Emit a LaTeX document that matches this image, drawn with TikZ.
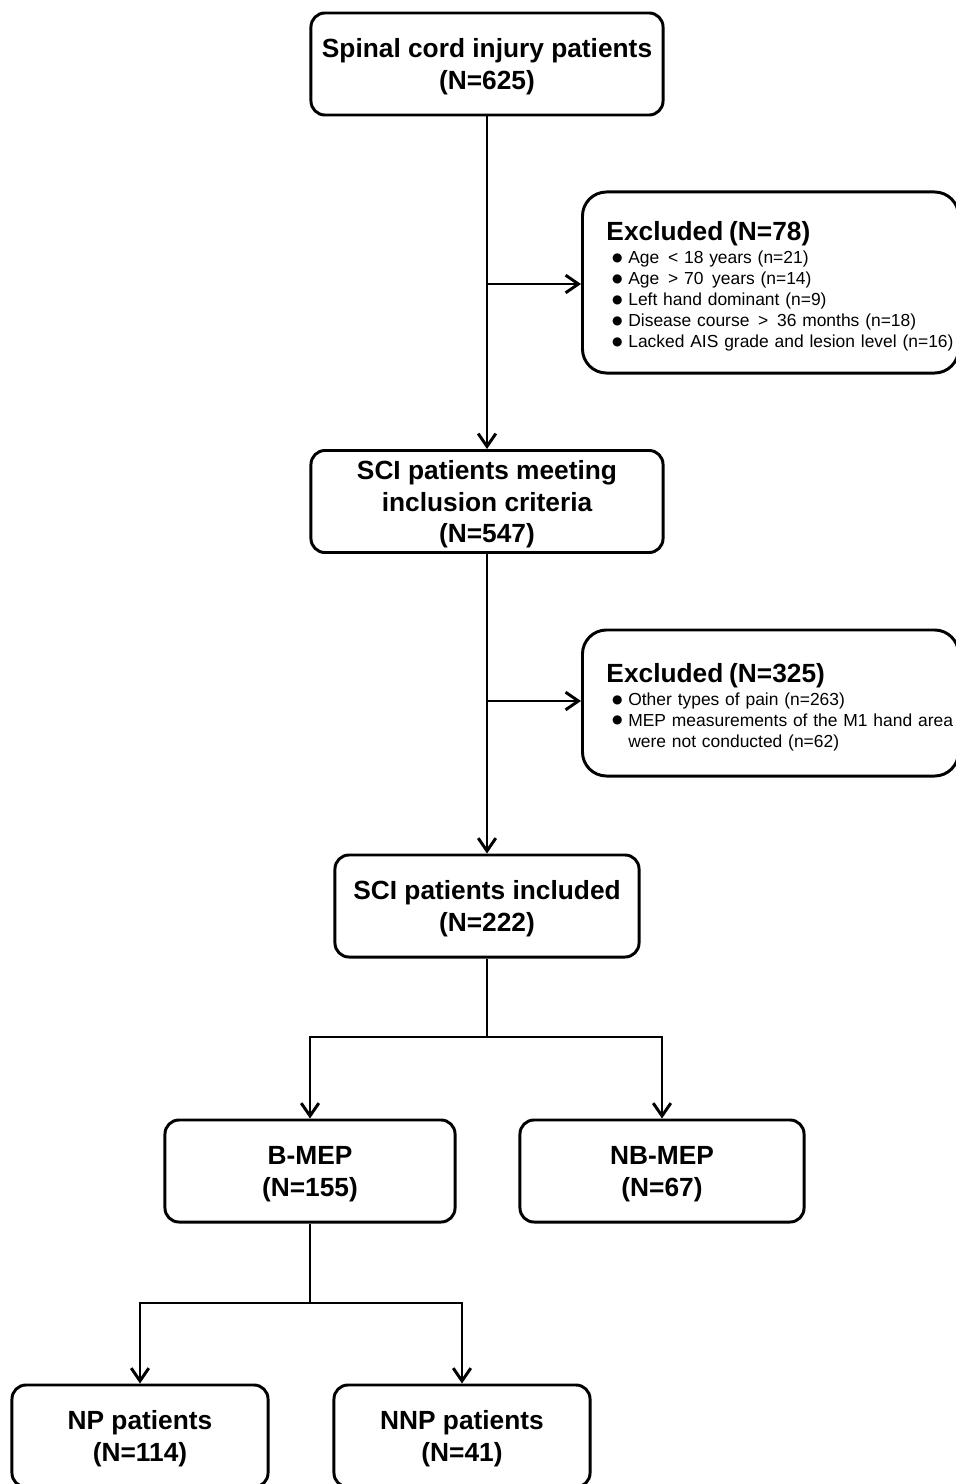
\documentclass[tikz,border=0pt]{standalone}
\usepackage{fontspec}
\setmainfont{Liberation Sans}
\newfontfamily\dotfont{DejaVu Sans}
\usetikzlibrary{arrows.meta,positioning,calc}
\tikzset{flowbox/.style={rectangle, rounded corners=0.35cm, draw=black, line width=2.1pt, fill=white, align=center, minimum height=2.55cm, text depth=-4pt, font=\bfseries\fontsize{18.7}{22.7}\selectfont},
exclbox/.style={rectangle, rounded corners=0.6cm, draw=black, line width=2.1pt, fill=white, align=left, anchor=west, text width=9.4cm, inner xsep=0pt, font=\fontsize{12.4}{14.9}\selectfont},
flowline/.style={line width=2.1pt},
flowarrow/.style={line width=2.1pt, -{Straight Barb[length=3.2mm,width=4.4mm]}}}
\newcommand{\exclhead}[1]{\hspace*{0.6cm}{\bfseries\fontsize{18.7}{22.7}\selectfont\rule{0pt}{19pt}#1}}
\newcommand{\exclmark}{\raisebox{1.5pt}{\dotfont\fontsize{8.5}{8.5}\selectfont ●}}
\newcommand{\exclitem}[1]{\hspace*{0.74cm}\exclmark\ #1}

\begin{document}
\begin{tikzpicture}[x=0.025cm,y=-0.025cm]
\useasboundingbox (0,0) rectangle (955,1484);
% main column
\node[flowbox, minimum width=8.8cm] (injury) at (487,64) {Spinal cord injury patients\\(N=625)};
\node[flowbox, minimum width=8.8cm] (meeting) at (487,501.5) {SCI patients meeting\\inclusion criteria\\(N=547)};
\node[flowbox, minimum width=7.6cm] (included) at (487,906) {SCI patients included\\(N=222)};
\node[flowbox, minimum width=7.25cm] (bmep) at (310,1171) {B-MEP\\(N=155)};
\node[flowbox, minimum width=7.1cm] (nbmep) at (662,1171) {NB-MEP\\(N=67)};
\node[flowbox, minimum width=6.4cm] (np) at (140,1436) {NP patients\\(N=114)};
\node[flowbox, minimum width=6.4cm] (nnp) at (462,1436) {NNP patients\\(N=41)};
% exclusions
\node[exclbox, minimum height=4.525cm] (excl1) at (581,282.5) {\exclhead{Excluded (N=78)}\\[1.5pt]
\exclitem{Age\, < 18 years (n=21)}\\
\exclitem{Age\, > 70\, years (n=14)}\\
\exclitem{Left hand dominant (n=9)}\\
\exclitem{Disease course\, >\, 36 months (n=18)}\\
\exclitem{Lacked AIS grade and lesion level (n=16)}};
\node[exclbox, minimum height=3.65cm] (excl2) at (581,703) {\exclhead{Excluded (N=325)}\\[1.5pt]
\exclitem{Other types of pain (n=263)}\\
\exclitem{MEP measurements of the M1 hand area}\\
\hspace*{0.74cm}\phantom{\exclmark\ }were not conducted (n=62)};
% branch points
\coordinate (cut1) at (487,284);
\coordinate (cut2) at (487,701);
\coordinate (split1) at (487,1037);
\coordinate (split2) at (310,1303);
% connectors
\draw[flowarrow] (injury) -- (meeting);
\draw[flowarrow] (cut1) -- (cut1 -| excl1.west);
\draw[flowarrow] (meeting) -- (included);
\draw[flowarrow] (cut2) -- (cut2 -| excl2.west);
\draw[flowline] (included) -- (split1);
\draw[flowarrow] (split1) -| (bmep);
\draw[flowarrow] (split1) -| (nbmep);
\draw[flowline] (bmep) -- (split2);
\draw[flowarrow] (split2) -| (np);
\draw[flowarrow] (split2) -| (nnp);
\end{tikzpicture}
\end{document}
